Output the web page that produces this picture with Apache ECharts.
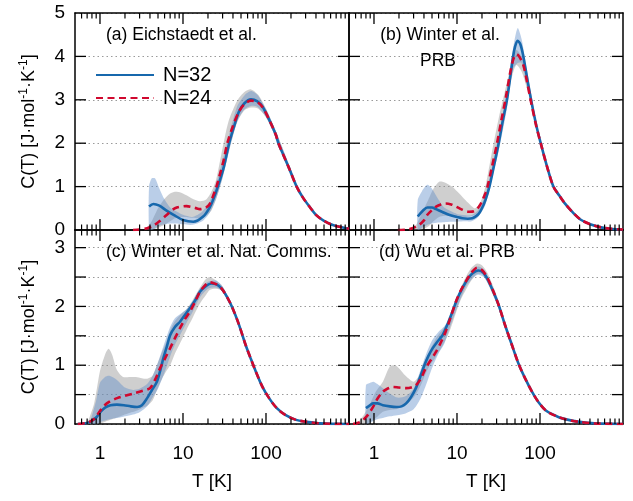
<!DOCTYPE html>
<html><head><meta charset="utf-8">
<script src="https://cdn.jsdelivr.net/npm/echarts@6/dist/echarts.min.js"></script>
<style>html,body{margin:0;padding:0;background:#fff}#c{width:633px;height:501px}</style>
</head><body><div id="c"></div>
<script>
const panelLabels = ['(a) Eichstaedt et al.', '(b) Winter et al.', 'PRB', '(c) Winter et al. Nat. Comms.', '(d) Wu et al. PRB'];
const seriesNames = ['N=32', 'N=24'];
const xTickLabels = ['1', '10', '100'];
const yTickLabelsTop = ['0', '1', '2', '3', '4', '5'];
const yTickLabelsBottom = ['0', '1', '2', '3'];
const xAxisTitle = 'T [K]';
const xMajorTicks = [1, 10, 100];
const xMinorTicks = [0.6, 0.7, 0.8, 0.9, 2, 3, 4, 5, 6, 7, 8, 9, 20, 30, 40, 50, 60, 70, 80, 90, 200, 300, 400, 500, 600, 700, 800, 900];
const yTicksTop = [1, 2, 3, 4];
const yTicksBottom = [0.5, 1, 1.5, 2, 2.5, 3];

const T32a = [3.9, 4.4, 5.2, 6.2, 7.7, 10, 13.3, 17.5, 21, 23, 26.3, 31, 36, 41, 47, 55, 66, 78, 91, 110, 131, 141, 160, 190, 234, 280, 340, 400, 500, 650, 1000];
const c32a = [0.54, 0.60, 0.56, 0.46, 0.35, 0.23, 0.19, 0.31, 0.52, 0.69, 1.0, 1.45, 2.0, 2.37, 2.72, 2.92, 3.01, 2.97, 2.84, 2.53, 2.2, 2.0, 1.75, 1.42, 1.0, 0.74, 0.52, 0.35, 0.21, 0.11, 0.03];
const T24a = [2.5, 3.0, 3.7, 4.4, 5.2, 6.4, 8, 11, 14, 16, 19, 21, 23, 25.3, 28, 31, 34.2, 40, 47, 55, 66, 78, 91, 110, 131, 141, 160, 190, 234, 280, 340, 400, 500, 650, 1000];
const c24a = [0.0, 0.01, 0.04, 0.1, 0.2, 0.35, 0.5, 0.55, 0.51, 0.48, 0.52, 0.6, 0.78, 1.0, 1.3, 1.62, 2.0, 2.4, 2.72, 2.9, 2.98, 2.95, 2.83, 2.53, 2.2, 2.0, 1.75, 1.42, 1.0, 0.74, 0.52, 0.35, 0.21, 0.11, 0.03];
const TB32a = [3.9, 4.2, 4.6, 5.2, 6, 7, 8.5, 10, 13, 17, 21, 25, 30, 36, 45, 55, 66, 80, 100, 130, 190, 234, 280, 340];
const hi32a = [1.0, 1.19, 1.19, 0.95, 0.7, 0.52, 0.42, 0.35, 0.3, 0.42, 0.66, 1.05, 1.6, 2.2, 2.85, 3.1, 3.2, 3.1, 2.78, 2.3, 1.5, 1.04, 0.76, 0.53];
const lo32a = [0.0, 0.0, 0.04, 0.1, 0.13, 0.15, 0.15, 0.13, 0.12, 0.2, 0.4, 0.72, 1.2, 1.82, 2.5, 2.78, 2.86, 2.83, 2.6, 2.15, 1.38, 0.97, 0.72, 0.51];
const TB24a = [3.5, 4.2, 5, 6, 7, 8, 9.5, 11, 13, 16, 19, 22, 25, 28, 32, 36, 45, 55, 66, 80, 100, 130, 190, 234, 280, 340];
const hi24a = [0.0, 0.2, 0.5, 0.72, 0.84, 0.88, 0.86, 0.8, 0.72, 0.66, 0.7, 0.88, 1.15, 1.6, 2.15, 2.55, 2.98, 3.18, 3.24, 3.12, 2.8, 2.3, 1.5, 1.04, 0.76, 0.53];
const lo24a = [0.0, 0.0, 0.05, 0.12, 0.2, 0.27, 0.3, 0.3, 0.28, 0.27, 0.33, 0.45, 0.7, 1.0, 1.42, 1.85, 2.48, 2.76, 2.82, 2.8, 2.6, 2.15, 1.38, 0.97, 0.72, 0.51];
const T32b = [3.37, 3.9, 4.4, 5.0, 5.6, 6.6, 8, 10, 11.6, 13.5, 15.3, 17, 18.4, 20, 22, 24.6, 27.7, 31.8, 35.5, 40, 44, 47, 50, 53.7, 58, 63, 70, 78, 90, 102, 120, 145, 170, 198, 250, 314, 420, 544, 700, 1000];
const c32b = [0.31, 0.45, 0.52, 0.52, 0.48, 0.42, 0.35, 0.3, 0.27, 0.26, 0.27, 0.32, 0.38, 0.5, 0.69, 1.0, 1.45, 2.0, 2.5, 3.0, 3.55, 3.95, 4.22, 4.36, 4.28, 4.0, 3.5, 3.0, 2.42, 2.0, 1.5, 1.0, 0.8, 0.62, 0.4, 0.23, 0.12, 0.06, 0.03, 0.01];
const T24b = [1.94, 2.68, 3.5, 4.0, 4.4, 5.0, 5.6, 6.4, 7.3, 8.5, 9.7, 11.5, 14, 16, 18.4, 20, 22, 23.3, 26, 30.4, 34, 38.3, 44, 48, 52, 56, 63, 70, 78, 90, 102, 120, 145, 170, 198, 250, 314, 420, 544, 700, 1000];
const c24b = [0.0, 0.02, 0.12, 0.22, 0.35, 0.46, 0.54, 0.59, 0.61, 0.59, 0.54, 0.47, 0.42, 0.43, 0.54, 0.66, 0.85, 1.0, 1.4, 2.0, 2.5, 3.0, 3.65, 3.95, 4.05, 4.0, 3.8, 3.4, 2.95, 2.4, 2.0, 1.5, 1.0, 0.8, 0.62, 0.4, 0.23, 0.12, 0.06, 0.03, 0.01];
const TB32b = [3.37, 3.8, 4.4, 5.0, 5.9, 7, 8.5, 10, 12.5, 15, 18, 22, 27, 32, 40, 47, 53.7, 60, 70, 80, 90, 102, 120, 145, 170];
const hi32b = [0.69, 0.9, 1.04, 0.95, 0.72, 0.52, 0.43, 0.37, 0.34, 0.34, 0.46, 0.82, 1.55, 2.2, 3.2, 4.15, 4.65, 4.4, 3.65, 3.05, 2.47, 2.04, 1.53, 1.02, 0.81];
const lo32b = [0.0, 0.05, 0.12, 0.15, 0.17, 0.18, 0.19, 0.19, 0.2, 0.2, 0.3, 0.58, 1.25, 1.85, 2.8, 3.7, 3.85, 3.85, 3.3, 2.9, 2.36, 1.96, 1.47, 0.98, 0.79];
const TB24b = [3.0, 3.6, 4.5, 5.2, 6.1, 7, 8.7, 10.5, 12.6, 15, 16.5, 19, 22, 27, 32, 40, 47, 52, 60, 70, 80, 90, 102, 120, 145, 170];
const hi24b = [0.0, 0.3, 0.69, 0.95, 1.11, 1.1, 1.0, 0.85, 0.69, 0.55, 0.5, 0.62, 1.0, 1.9, 2.6, 3.4, 3.95, 4.15, 4.0, 3.55, 3.05, 2.47, 2.04, 1.53, 1.02, 0.81];
const lo24b = [0.0, 0.0, 0.08, 0.2, 0.3, 0.33, 0.32, 0.3, 0.3, 0.32, 0.35, 0.42, 0.62, 1.35, 2.1, 3.0, 3.6, 3.8, 3.65, 3.25, 2.85, 2.36, 1.96, 1.47, 0.98, 0.79];
const T32c = [0.54, 0.65, 0.77, 0.9, 1.02, 1.15, 1.34, 1.6, 1.94, 2.35, 2.8, 3.2, 3.7, 4.2, 4.85, 5.3, 5.8, 6.4, 7.0, 8, 9.2, 10.5, 12.1, 14, 16, 19, 22, 25, 28.9, 34, 39.6, 47, 57, 66, 75.5, 90, 109, 135, 173, 230, 300, 450, 1000];
const c32c = [0.0, 0.01, 0.04, 0.11, 0.21, 0.28, 0.32, 0.33, 0.32, 0.3, 0.29, 0.32, 0.44, 0.57, 0.72, 0.9, 1.12, 1.32, 1.51, 1.65, 1.74, 1.85, 1.97, 2.1, 2.25, 2.35, 2.39, 2.38, 2.31, 2.16, 1.97, 1.7, 1.34, 1.1, 0.89, 0.64, 0.44, 0.27, 0.15, 0.07, 0.04, 0.01, 0.0];
const T24c = [0.54, 0.7, 0.85, 1.0, 1.12, 1.3, 1.61, 2.0, 2.55, 3.2, 4.0, 4.6, 5.3, 6.1, 7.0, 8, 9.2, 10.5, 12.1, 14, 16, 18.5, 21, 23, 25, 28.9, 34, 39.6, 47, 57, 66, 75.5, 90, 109, 135, 173, 230, 300, 450, 1000];
const c24c = [0.0, 0.02, 0.085, 0.22, 0.31, 0.38, 0.44, 0.48, 0.52, 0.56, 0.61, 0.75, 0.95, 1.12, 1.29, 1.46, 1.63, 1.78, 1.91, 2.08, 2.25, 2.36, 2.41, 2.4, 2.38, 2.31, 2.16, 1.97, 1.7, 1.34, 1.1, 0.89, 0.64, 0.44, 0.27, 0.15, 0.07, 0.04, 0.01, 0.0];
const TB32c = [0.75, 0.9, 1.0, 1.15, 1.3, 1.6, 2.0, 2.5, 3.0, 3.7, 4.3, 5, 6, 7, 8, 9.5, 11, 13, 16, 20, 25, 30, 40, 47, 57];
const hi32c = [0.0, 0.4, 0.7, 0.8, 0.82, 0.75, 0.62, 0.58, 0.6, 0.68, 0.82, 1.05, 1.38, 1.65, 1.8, 1.88, 1.95, 2.08, 2.3, 2.42, 2.44, 2.34, 1.99, 1.72, 1.35];
const lo32c = [0.0, 0.0, 0.03, 0.06, 0.08, 0.1, 0.13, 0.16, 0.2, 0.3, 0.45, 0.6, 0.88, 1.15, 1.35, 1.55, 1.72, 1.9, 2.15, 2.3, 2.32, 2.25, 1.93, 1.68, 1.33];
const TB24c = [0.7, 0.85, 1.0, 1.15, 1.27, 1.4, 1.6, 1.9, 2.3, 2.7, 3.2, 3.7, 4.3, 4.85, 5.5, 6.3, 7, 8, 9.2, 11, 13, 16, 19, 21, 25, 30, 40, 47, 57];
const hi24c = [0.0, 0.35, 0.9, 1.18, 1.28, 1.18, 0.92, 0.8, 0.8, 0.8, 0.78, 0.77, 0.82, 1.0, 1.2, 1.4, 1.59, 1.75, 1.85, 1.95, 2.1, 2.32, 2.47, 2.5, 2.44, 2.34, 1.99, 1.72, 1.35];
const lo24c = [0.0, 0.0, 0.01, 0.04, 0.06, 0.08, 0.11, 0.15, 0.19, 0.22, 0.27, 0.31, 0.4, 0.58, 0.75, 0.9, 1.0, 1.2, 1.37, 1.6, 1.8, 2.05, 2.2, 2.28, 2.3, 2.26, 1.93, 1.68, 1.33];
const T32d = [0.8, 0.9, 0.975, 1.1, 1.28, 1.55, 1.86, 2.15, 2.44, 2.8, 3.2, 3.6, 4.05, 4.5, 5.1, 5.8, 6.7, 7.7, 8.8, 10, 11.6, 13.5, 15.3, 18, 20.5, 23, 27, 31.8, 38, 46, 55, 66, 80, 95, 120, 166, 220, 288, 450, 1000];
const c32d = [0.27, 0.32, 0.35, 0.35, 0.32, 0.3, 0.29, 0.3, 0.35, 0.46, 0.61, 0.8, 1.0, 1.15, 1.29, 1.4, 1.51, 1.7, 1.91, 2.12, 2.31, 2.47, 2.56, 2.61, 2.58, 2.48, 2.27, 2.02, 1.68, 1.34, 1.03, 0.78, 0.55, 0.38, 0.22, 0.12, 0.07, 0.04, 0.01, 0.0];
const T24d = [0.56, 0.65, 0.74, 0.85, 0.975, 1.1, 1.28, 1.45, 1.69, 2.0, 2.44, 2.8, 3.2, 3.7, 4.2, 4.9, 5.6, 6.4, 7.3, 8.4, 9.7, 11, 12.7, 15, 17.5, 20, 23, 27, 31.8, 38, 46, 55, 66, 80, 95, 120, 166, 220, 288, 450, 1000];
const c24d = [0.0, 0.02, 0.07, 0.16, 0.29, 0.43, 0.55, 0.6, 0.63, 0.62, 0.61, 0.62, 0.66, 0.78, 0.95, 1.1, 1.23, 1.39, 1.57, 1.82, 2.08, 2.26, 2.42, 2.58, 2.66, 2.62, 2.5, 2.28, 2.02, 1.68, 1.34, 1.03, 0.78, 0.55, 0.38, 0.22, 0.12, 0.07, 0.04, 0.01, 0.0];
const TB32d = [0.8, 0.9, 0.98, 1.1, 1.28, 1.55, 1.9, 2.4, 3.0, 3.6, 4.2, 5, 6, 7, 8, 9, 10.5, 13, 16, 18, 21, 25, 32, 38, 46];
const hi32d = [0.66, 0.7, 0.72, 0.68, 0.61, 0.52, 0.45, 0.47, 0.6, 0.9, 1.17, 1.42, 1.57, 1.66, 1.76, 1.92, 2.17, 2.46, 2.64, 2.68, 2.63, 2.42, 2.06, 1.7, 1.35];
const lo32d = [0.0, 0.02, 0.05, 0.08, 0.1, 0.13, 0.15, 0.18, 0.25, 0.42, 0.65, 0.95, 1.2, 1.36, 1.6, 1.8, 2.05, 2.35, 2.5, 2.54, 2.5, 2.32, 1.98, 1.66, 1.33];
const TB24d = [0.62, 0.75, 0.9, 1.05, 1.28, 1.55, 1.8, 2.0, 2.4, 3.0, 3.5, 3.9, 4.5, 5.6, 6.5, 8, 9.5, 11, 13, 15, 17.5, 20, 23, 27, 32, 38, 46];
const hi24d = [0.0, 0.15, 0.35, 0.55, 0.72, 0.98, 1.0, 0.95, 0.82, 0.72, 0.82, 1.0, 1.2, 1.46, 1.58, 1.76, 2.05, 2.3, 2.52, 2.66, 2.73, 2.7, 2.58, 2.36, 2.08, 1.7, 1.35];
const lo24d = [0.0, 0.0, 0.03, 0.1, 0.21, 0.24, 0.25, 0.27, 0.32, 0.45, 0.6, 0.75, 0.95, 1.15, 1.3, 1.55, 1.85, 2.1, 2.3, 2.45, 2.55, 2.55, 2.42, 2.2, 1.96, 1.66, 1.33];

const panels = [
  {T32: T32a, c32: c32a, T24: T24a, c24: c24a, TB32: TB32a, hi32: hi32a, lo32: lo32a, TB24: TB24a, hi24: hi24a, lo24: lo24a},
  {T32: T32b, c32: c32b, T24: T24b, c24: c24b, TB32: TB32b, hi32: hi32b, lo32: lo32b, TB24: TB24b, hi24: hi24b, lo24: lo24b},
  {T32: T32c, c32: c32c, T24: T24c, c24: c24c, TB32: TB32c, hi32: hi32c, lo32: lo32c, TB24: TB24c, hi24: hi24c, lo24: lo24c},
  {T32: T32d, c32: c32d, T24: T24d, c24: c24d, TB32: TB32d, hi32: hi32d, lo32: lo32d, TB24: TB24d, hi24: hi24d, lo24: lo24d}
];
const FONT = 'Liberation Sans, Arial, Helvetica, sans-serif';
const BLUE = '#1768ad', RED = '#d0082e';
const BAND_BLUE = 'rgba(90,138,200,0.42)', BAND_GREY = 'rgba(140,140,140,0.42)';
const gridBoxes = [
  {left: 75, top: 13, width: 274, height: 217}, {left: 349, top: 13, width: 274, height: 217},
  {left: 75, top: 230, width: 274, height: 194}, {left: 349, top: 230, width: 274, height: 194}];
const yName = '{a|C(T) [J·mol}{s|-1}{a|·K}{s|-1}{a|]}';

function xAxisFor(g, pos) {
  const lab = g >= 2 && pos === 'bottom';
  return {type: 'log', logBase: 10, min: 0.5, max: 1000, gridIndex: g, position: pos,
    axisLine: {show: true, onZero: false, lineStyle: {color: '#000', width: 1.5}},
    axisTick: {show: false}, minorTick: {show: false},
    axisLabel: {show: lab, margin: 20, fontSize: 19, fontFamily: FONT, color: '#000',
      formatter: x => { const s = String(Math.round(x * 1000) / 1000); return xTickLabels.includes(s) ? s : ''; }},
    splitLine: {show: false}, minorSplitLine: {show: false},
    name: lab ? xAxisTitle : '', nameLocation: 'middle', nameGap: 48,
    nameTextStyle: {fontSize: 19, fontFamily: FONT, color: '#000'}};
}
function yAxisFor(g, pos) {
  const top = g < 2; const lab = g % 2 === 0 && pos === 'left';
  const labels = top ? yTickLabelsTop : yTickLabelsBottom;
  return {type: 'value', gridIndex: g, position: pos, min: 0, max: top ? 5 : 3.3, interval: top ? 1 : 0.5,
    axisLine: {show: true, onZero: false, lineStyle: {color: '#000', width: 1.5}},
    axisTick: {show: false},
    axisLabel: {show: lab, margin: 10, fontSize: 19, fontFamily: FONT, color: '#000',
      formatter: x => { const s = String(Math.round(x * 100) / 100); return labels.includes(s) ? s : ''; }},
    splitLine: {show: pos === 'left', lineStyle: {color: '#9a9a9a', width: 1, type: [1.5, 3]}},
    name: lab ? yName : '', nameLocation: 'middle', nameRotate: 90, nameGap: 35,
    nameTextStyle: {color: '#000', rich: {
      a: {fontSize: 18, fontFamily: FONT, color: '#000', lineHeight: 22},
      s: {fontSize: 12, fontFamily: FONT, color: '#000', lineHeight: 22, verticalAlign: 'top'}}}};
}
function band(p, T, lo, hi, color) {
  return {type: 'custom', name: 'band', xAxisIndex: 2 * p, yAxisIndex: 2 * p, z: 1, silent: true, clip: true, data: [[1, 1]],
    renderItem: (params, api) => {
      const pts = [];
      for (let i = 0; i < T.length; i++) pts.push(api.coord([T[i], hi[i]]));
      for (let i = T.length - 1; i >= 0; i--) pts.push(api.coord([T[i], lo[i]]));
      return {type: 'polygon', shape: {points: pts, smooth: 0.25}, style: {fill: color}};
    }};
}
function line(p, name, T, vv, color, dash, z) {
  return {type: 'line', name, xAxisIndex: 2 * p, yAxisIndex: 2 * p, z, data: T.map((t, i) => [t, vv[i]]), smooth: 0.3, symbol: 'none',
    lineStyle: {color, width: 2.6, type: dash}, itemStyle: {color}};
}
// inward tick marks on all four frame sides, positioned by the panel's own axes
function ticks(p) {
  const yt = p < 2 ? yTicksTop : yTicksBottom;
  return {type: 'custom', name: 'ticks', xAxisIndex: 2 * p, yAxisIndex: 2 * p, z: 6, silent: true, clip: false, data: [[1, 1]],
    renderItem: (params, api) => {
      const cs = params.coordSys;
      const x0 = cs.x, x1 = cs.x + cs.width, y0 = cs.y, y1 = cs.y + cs.height;
      const kids = [];
      const mk = (a, b, c, d, w) => kids.push({type: 'line', shape: {x1: a, y1: b, x2: c, y2: d}, style: {stroke: '#000', lineWidth: w}});
      xMajorTicks.forEach(v => { const x = api.coord([v, 0])[0]; mk(x, y1, x, y1 - 11, 1.3); mk(x, y0, x, y0 + 11, 1.3); });
      xMinorTicks.forEach(v => { const x = api.coord([v, 0])[0]; mk(x, y1, x, y1 - 5.5, 1.2); mk(x, y0, x, y0 + 5.5, 1.2); });
      yt.forEach(v => { const y = api.coord([1, v])[1]; mk(x0, y, x0 + 11, y, 1.3); mk(x1, y, x1 - 11, y, 1.3); });
      return {type: 'group', children: kids};
    }};
}
const xAxis = [], yAxis = [], series = [];
panels.forEach((d, p) => {
  xAxis.push(xAxisFor(p, 'bottom'), xAxisFor(p, 'top'));
  yAxis.push(yAxisFor(p, 'left'), yAxisFor(p, 'right'));
  series.push(band(p, d.TB24, d.lo24, d.hi24, BAND_GREY));
  series.push(band(p, d.TB32, d.lo32, d.hi32, BAND_BLUE));
  series.push(line(p, seriesNames[0], d.T32, d.c32, BLUE, 'solid', 3));
  series.push(line(p, seriesNames[1], d.T24, d.c24, RED, [7, 4.5], 4));
  series.push(ticks(p));
});
const ts = {font: '17.5px ' + FONT, fill: '#000', textVerticalAlign: 'middle'};
const option = {animation: false, backgroundColor: '#fff',
  grid: gridBoxes.map(b => Object.assign({containLabel: false, outerBoundsMode: 'none'}, b)),
  xAxis, yAxis, series,
  legend: {data: seriesNames, orient: 'vertical', left: 95, top: 65, padding: 0, itemWidth: 58, itemHeight: 14, itemGap: 3, selectedMode: false,
    itemStyle: {opacity: 0}, textStyle: {fontSize: 20, fontFamily: FONT, color: '#000', padding: [0, 0, 0, 4]}},
  graphic: [
    {type: 'text', x: 106, y: 35, style: Object.assign({text: panelLabels[0]}, ts)},
    {type: 'text', x: 440, y: 35, style: Object.assign({text: panelLabels[1], textAlign: 'center'}, ts)},
    {type: 'text', x: 438, y: 61, style: Object.assign({text: panelLabels[2], textAlign: 'center'}, ts)},
    {type: 'text', x: 106, y: 252, style: Object.assign({text: panelLabels[3]}, ts)},
    {type: 'text', x: 379, y: 252, style: Object.assign({text: panelLabels[4]}, ts)}]
};
echarts.init(document.getElementById('c')).setOption(option);
</script>
</body></html>
